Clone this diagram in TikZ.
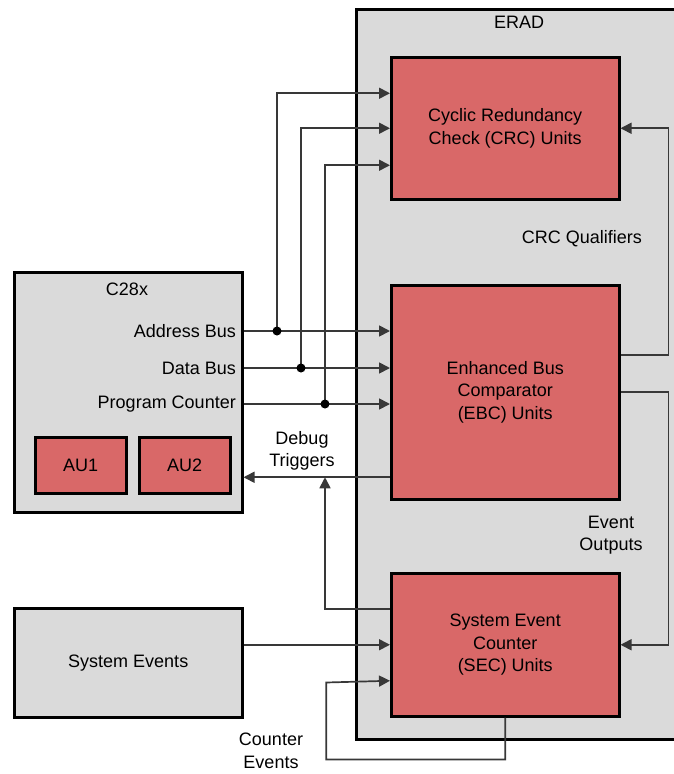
\documentclass[tikz,border=0pt]{standalone}
\usepackage{fontspec}
\setmainfont{Liberation Sans}
\usetikzlibrary{arrows.meta,calc}
\definecolor{boxgray}{RGB}{218,218,218}
\definecolor{unitred}{RGB}{217,104,104}
\tikzset{
  graybox/.style={draw=black,fill=boxgray,line width=2.5pt,anchor=north west,inner sep=0pt},
  redbox/.style={draw=black,fill=unitred,line width=2.5pt,anchor=north west,inner sep=0pt,align=center},
  conn/.style={line width=1.7pt,draw=black!78,-{Triangle[length=11pt,width=11pt]}},
  lbl/.style={inner sep=0pt,align=center},
}
\begin{document}
\begin{tikzpicture}[x=1pt,y=-1pt]
\fontsize{18}{22.5}\selectfont
\useasboundingbox (0,0) rectangle (674,774);
% ERAD block
\node[graybox,minimum width=328pt,minimum height=730pt] (erad) at (355,8) {};
\node[lbl] (eradlbl) at (519,22) {ERAD};
\node[redbox,minimum width=228pt,minimum height=142pt] (crc) at (390,56) {Cyclic Redundancy\\Check (CRC) Units};
\node[redbox,minimum width=228pt,minimum height=214pt] (ebc) at (390,284) {Enhanced Bus\\Comparator\\(EBC) Units};
\node[redbox,minimum width=228pt,minimum height=143pt] (sec) at (390,572) {System Event\\Counter\\(SEC) Units};
% C28x
\node[graybox,minimum width=228pt,minimum height=240pt] (cpu) at (13,271) {};
\node[lbl] (cpulbl) at (127,289) {C28x};
\node[lbl,anchor=east] (addr) at (236,331) {Address Bus};
\node[lbl,anchor=east] (data) at (236,368) {Data Bus};
\node[lbl,anchor=east] (pc) at (236,404) {Program Counter};
\node[redbox,minimum width=91pt,minimum height=56pt] (au1) at (34,436) {};
\node[lbl] at (au1.center) {AU1};
\node[redbox,minimum width=91pt,minimum height=56pt] (au2) at (138,436) {};
\node[lbl] at (au2.center) {AU2};
% system events
\node[graybox,minimum width=228pt,minimum height=109pt] (sysev) at (13,607) {};
\node[lbl] at (sysev.center) {System Events};
% bus taps
\coordinate (tapa) at (277,331);
\coordinate (tapd) at (301,368);
\coordinate (tapp) at (325,404);
\coordinate (dbg) at ([yshift=-85pt]ebc.west);
\draw[conn] (addr.east -| cpu.east) -- (addr.east -| ebc.west);
\draw[conn] (data.east -| cpu.east) -- (data.east -| ebc.west);
\draw[conn] (pc.east -| cpu.east) -- (pc.east -| ebc.west);
\draw[conn] (tapa) |- ([yshift=35pt]crc.west);
\draw[conn] (tapd) |- (crc.west);
\draw[conn] (tapp) |- ([yshift=-37pt]crc.west);
\foreach \t in {tapa,tapd,tapp} \fill (\t) circle (4.5pt);
% debug triggers
\draw[conn] (dbg) -- (dbg -| cpu.east);
\draw[conn] ([yshift=36pt]sec.west) -| (tapp |- dbg);
\node[lbl] (dbglbl) at (302,451) {Debug\\Triggers};
% qualifiers and event outputs
\draw[conn] ([yshift=37pt]ebc.east) -- ++(48,0) |- (crc.east);
\node[lbl] (crcq) at (582,239) {CRC Qualifiers};
\draw[conn] (ebc.east) -- ++(48,0) |- (sec.east);
\node[lbl] (evout) at (611,535) {Event\\Outputs};
% system and counter events
\draw[conn] (sec.west -| sysev.east) -- (sec.west);
\draw[conn] (sec.south) -- ++(0,42) -| ++(-179,-77) -- ([yshift=-36pt]sec.west);
\node[lbl] (cntev) at (271,751) {Counter\\Events};
\end{tikzpicture}
\end{document}
